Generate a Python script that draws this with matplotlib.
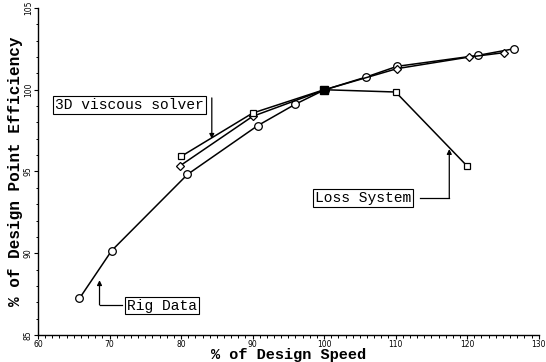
import matplotlib
matplotlib.use("Agg")
import matplotlib.pyplot as plt
from matplotlib.ticker import MultipleLocator

# Rig test data
rig_speed = [65.8, 70.3, 80.9, 90.7, 96.0, 100.1, 105.9, 110.2, 121.5, 126.5]
rig_eff = [87.24, 90.16, 94.82, 97.8, 99.12, 100.0, 100.78, 101.43, 102.1, 102.5]

# 3D viscous solver predictions
cfd_speed = [79.8, 90.0, 100.1, 110.2, 120.3, 125.2]
cfd_eff = [95.33, 98.37, 100.0, 101.29, 102.0, 102.27]

# Loss system predictions
loss_speed = [80.0, 90.0, 100.0, 110.0, 120.0]
loss_eff = [95.92, 98.57, 100.0, 99.86, 95.33]

box_font = dict(family="Liberation Mono", size=10.5)
box_style = dict(boxstyle="square,pad=0.12", fc="white", ec="black", lw=0.8)
arrow_style = dict(arrowstyle="-|>", color="black", lw=0.9,
                   mutation_scale=7, shrinkA=0, shrinkB=0)

fig = plt.figure(figsize=(5.46, 3.62), dpi=100)
ax = fig.add_axes([0.0696, 0.0746, 0.917, 0.9034])

ax.plot(rig_speed, rig_eff, color="black", lw=1.1, marker="o", ms=5.5,
        mfc="white", mec="black", mew=0.9, zorder=3)
ax.plot(cfd_speed, cfd_eff, color="black", lw=1.1, marker="D", ms=3.6,
        mfc="white", mec="black", mew=0.9, zorder=4)
ax.plot(loss_speed, loss_eff, color="black", lw=1.1, marker="s", ms=5,
        mfc="white", mec="black", mew=0.9, zorder=5)
# design point where all three curves meet
ax.plot(loss_speed[2], loss_eff[2], marker="s", ms=5.5, color="black", zorder=6)

ax.set_xlim(60, 130)
ax.set_ylim(85, 105)
ax.xaxis.set_major_locator(MultipleLocator(10))
ax.xaxis.set_minor_locator(MultipleLocator(1))
ax.yaxis.set_major_locator(MultipleLocator(5))
ax.yaxis.set_minor_locator(MultipleLocator(1))
ax.tick_params(which="major", direction="out", length=3, width=0.8,
               labelsize=5.5, pad=0.8)
ax.tick_params(which="minor", direction="out", length=1.8, width=0.7)
for t in ax.get_yticklabels():
    t.set_rotation(90)
    t.set_va("center")

for side in ("top", "right"):
    ax.spines[side].set_visible(False)
for side in ("left", "bottom"):
    ax.spines[side].set_linewidth(1.0)

ax.set_xlabel("% of Design Speed", family="Liberation Mono",
              weight="bold", size=11)
ax.set_ylabel("% of Design Point Efficiency", family="Liberation Mono",
              weight="bold", size=11.5)
ax.xaxis.set_label_coords(0.5, -0.041)
ax.yaxis.set_label_coords(-0.03, 0.5)

# 3D viscous solver label, arrow down onto the square curve
ax.text(72.8, 99.07, "3D viscous solver", ha="center", va="center",
        bbox=box_style, **box_font)
ax.annotate("", xy=(84.3, 97.0), xytext=(84.3, 99.5), arrowprops=arrow_style)

# Loss system label with elbow leader
ax.text(105.4, 93.37, "Loss System", ha="center", va="center",
        bbox=box_style, **box_font)
ax.plot([113.4, 117.5], [93.37, 93.37], color="black", lw=0.9)
ax.annotate("", xy=(117.5, 96.37), xytext=(117.5, 93.37), arrowprops=arrow_style)

# Rig data label with elbow leader
ax.text(77.35, 86.8, "Rig Data", ha="center", va="center",
        bbox=box_style, **box_font)
ax.plot([71.7, 68.6], [86.84, 86.84], color="black", lw=0.9)
ax.annotate("", xy=(68.6, 88.35), xytext=(68.6, 86.84), arrowprops=arrow_style)

fig.savefig("out.png", dpi=100)
